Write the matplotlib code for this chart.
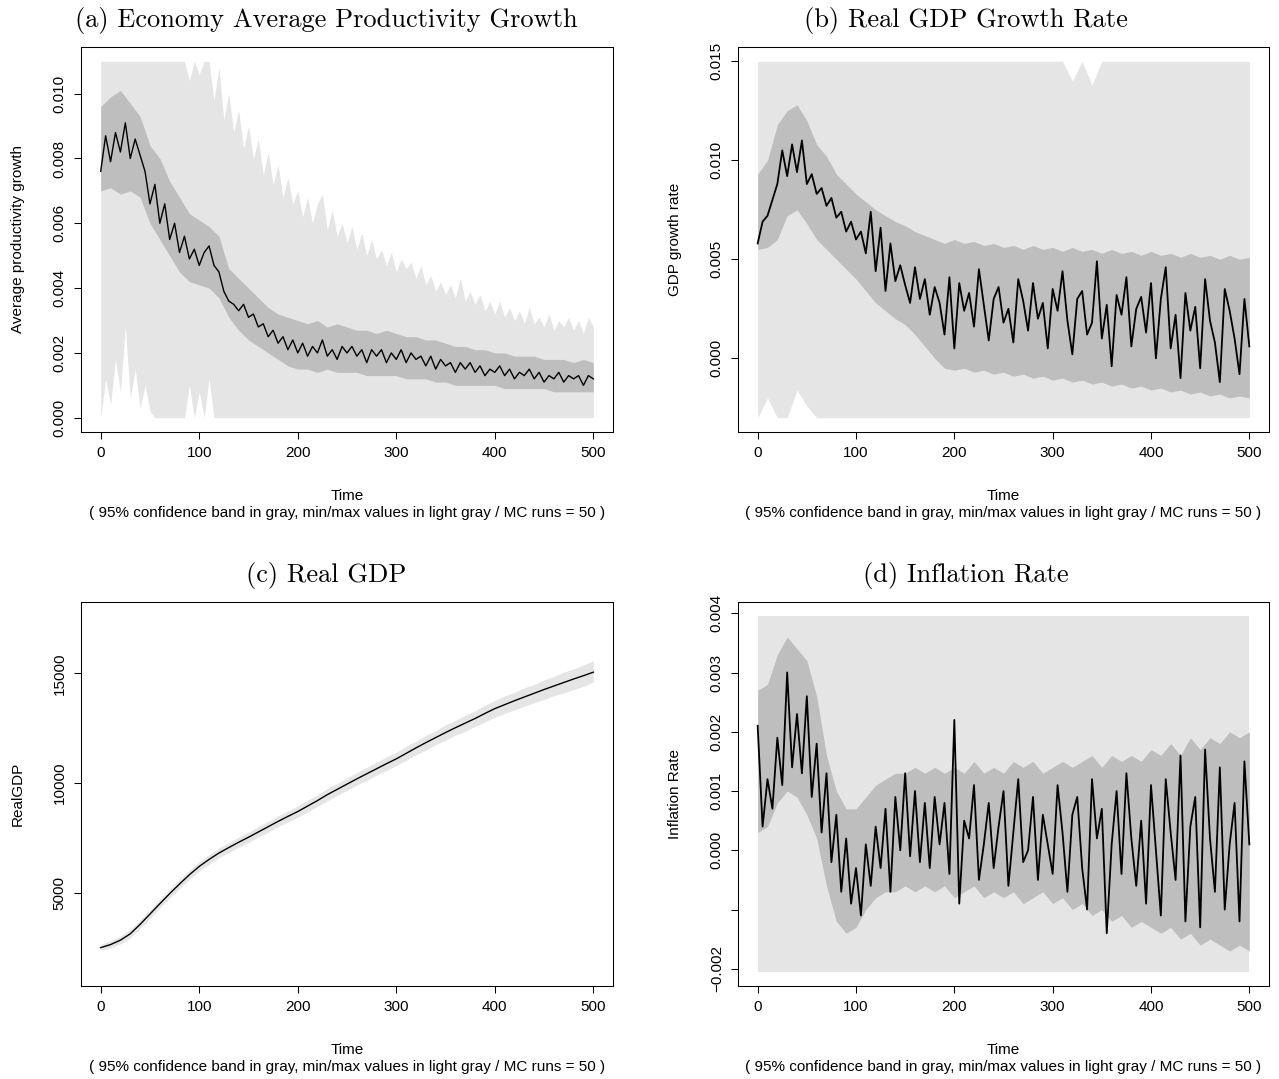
import numpy as np
import matplotlib
matplotlib.use("Agg")
import matplotlib.pyplot as plt

plt.rcParams['font.family'] = ['Liberation Sans', 'DejaVu Sans']
plt.rcParams['axes.unicode_minus'] = True

# ---------------- data ----------------
time5 = np.arange(0, 501, 5)     # 101 time points
time10 = np.arange(0, 501, 10)   # 51 time points

# (a) Economy average productivity growth
prod_mean = [.0076, .0087, .0079, .0088, .0082, .0091, .0080, .0086, .0081, .0076,
             .0066, .0072, .0060, .0066, .0055, .0060, .0051, .0056, .0049, .0052,
             .0047, .0051, .0053, .0047, .0045, .0039, .0036, .0035, .0033, .0035,
             .0031, .0032, .0028, .0029, .0025, .0027, .0023, .0025, .0021, .0024,
             .0020, .0023, .0019, .0022, .0020, .0024, .0019, .0021, .0018, .0022,
             .0020, .0022, .0019, .0021, .0017, .0021, .0019, .0021, .0017, .0020,
             .0018, .0021, .0017, .0020, .0018, .0019, .0016, .0019, .0015, .0018,
             .0016, .0017, .0014, .0017, .0015, .0017, .0014, .0016, .0013, .0015,
             .0014, .0016, .0013, .0015, .0012, .0014, .0013, .0015, .0012, .0014,
             .0011, .0013, .0012, .0014, .0011, .0013, .0012, .0013, .0010, .0013,
             .0012]
prod_ci_lo = [.0070, .0071, .0069, .0070, .0068, .0060, .0055, .0050, .0045, .0042,
              .0041, .0040, .0037, .0031, .0027, .0024, .0022, .0020, .0018, .0016,
              .0015, .0015, .0014, .0015, .0014, .0014, .0014, .0013, .0013, .0013,
              .0013, .0012, .0012, .0012, .0011, .0011, .0010, .0010, .0010, .0010,
              .0010, .0009, .0009, .0009, .0009, .0009, .0008, .0008, .0008, .0008,
              .0008]
prod_ci_hi = [.0096, .0099, .0101, .0097, .0093, .0084, .0080, .0073, .0068, .0063,
              .0061, .0059, .0056, .0046, .0043, .0040, .0037, .0034, .0032, .0031,
              .0030, .0029, .0030, .0028, .0029, .0028, .0027, .0027, .0026, .0027,
              .0026, .0025, .0025, .0024, .0024, .0023, .0022, .0022, .0021, .0021,
              .0020, .0020, .0019, .0019, .0019, .0018, .0018, .0018, .0017, .0018,
              .0017]
prod_max = [.0115, .0115, .0115, .0115, .0115, .0115, .0115, .0115, .0115, .0115,
            .0115, .0115, .0115, .0115, .0115, .0115, .0115, .0115, .0104, .0115,
            .0106, .0115, .0115, .0098, .0108, .0092, .0100, .0088, .0095, .0083,
            .0090, .0080, .0086, .0075, .0082, .0072, .0078, .0068, .0074, .0066,
            .0070, .0062, .0068, .0060, .0066, .0069, .0058, .0064, .0056, .0060,
            .0054, .0059, .0052, .0057, .0050, .0055, .0049, .0052, .0047, .0051,
            .0045, .0049, .0046, .0048, .0043, .0047, .0041, .0044, .0039, .0042,
            .0038, .0041, .0037, .0043, .0036, .0039, .0035, .0038, .0033, .0036,
            .0032, .0036, .0031, .0034, .0030, .0033, .0029, .0034, .0029, .0031,
            .0028, .0032, .0027, .0030, .0028, .0031, .0027, .0030, .0026, .0031,
            .0028]
prod_min = [.0000, .0012, .0004, .0018, .0008, .0028, .0006, .0015, .0003, .0010,
            .0002, -.001, -.001, -.001, -.001, -.001, -.001, -.001, .0010, -.001,
            .0008, -.001, .0012, -.001, -.001, -.001, -.001, -.001, -.001, -.001,
            -.001, -.001, -.001, -.001, -.001, -.001, -.001, -.001, -.001, -.001,
            -.001, -.001, -.001, -.001, -.001, -.001, -.001, -.001, -.001, -.001,
            -.001, -.001, -.001, -.001, -.001, -.001, -.001, -.001, -.001, -.001,
            -.001, -.001, -.001, -.001, -.001, -.001, -.001, -.001, -.001, -.001,
            -.001, -.001, -.001, -.001, -.001, -.001, -.001, -.001, -.001, -.001,
            -.001, -.001, -.001, -.001, -.001, -.001, -.001, -.001, -.001, -.001,
            -.001, -.001, -.001, -.001, -.001, -.001, -.001, -.001, -.001, -.001,
            -.001]

# (b) Real GDP growth rate
gdpg_mean = [.0058, .0069, .0072, .0080, .0088, .0105, .0092, .0108, .0094, .0110,
             .0088, .0093, .0083, .0086, .0077, .0081, .0071, .0074, .0064, .0069,
             .0060, .0064, .0053, .0074, .0044, .0066, .0034, .0058, .0039, .0047,
             .0037, .0028, .0046, .0030, .0040, .0022, .0036, .0028, .0012, .0041,
             .0005, .0038, .0024, .0033, .0016, .0045, .0027, .0009, .0030, .0036,
             .0018, .0025, .0008, .0040, .0029, .0014, .0038, .0020, .0028, .0005,
             .0035, .0024, .0044, .0019, .0002, .0030, .0034, .0012, .0018, .0049,
             .0010, .0027, -.0004, .0032, .0022, .0041, .0006, .0025, .0031, .0013,
             .0038, .0000, .0030, .0046, .0005, .0022, -.0010, .0033, .0014, .0026,
             -.0005, .0040, .0019, .0008, -.0012, .0035, .0024, .0010, -.0008, .0030,
             .0006]
gdpg_ci_lo = [.0055, .0056, .0060, .0072, .0075, .0068, .0060, .0055, .0050, .0045,
              .0040, .0034, .0028, .0024, .0020, .0017, .0012, .0006, .0000, -.0005,
              -.0006, -.0005, -.0007, -.0006, -.0008, -.0007, -.0009, -.0008, -.0010, -.0009,
              -.0011, -.0010, -.0012, -.0011, -.0013, -.0012, -.0014, -.0013, -.0015, -.0014,
              -.0016, -.0015, -.0017, -.0016, -.0018, -.0017, -.0019, -.0018, -.0020, -.0019,
              -.0020]
gdpg_ci_hi = [.0093, .0100, .0118, .0125, .0128, .0120, .0108, .0102, .0093, .0088,
              .0083, .0079, .0075, .0072, .0069, .0067, .0064, .0062, .0060, .0058,
              .0060, .0058, .0059, .0057, .0058, .0056, .0057, .0055, .0057, .0055,
              .0056, .0054, .0056, .0054, .0055, .0053, .0055, .0053, .0054, .0052,
              .0054, .0052, .0053, .0051, .0053, .0051, .0052, .0050, .0052, .0050,
              .0051]
gdpg_max = [.0155, .0155, .0155, .0155, .0155, .0155, .0155, .0155, .0155, .0155,
            .0155, .0155, .0155, .0155, .0155, .0155, .0155, .0155, .0155, .0155,
            .0155, .0155, .0155, .0155, .0155, .0155, .0155, .0155, .0155, .0155,
            .0155, .0155, .0140, .0155, .0138, .0155, .0155, .0155, .0155, .0155,
            .0155, .0155, .0155, .0155, .0155, .0155, .0155, .0155, .0155, .0155,
            .0155]
gdpg_min = [-.0035, -.0020, -.0035, -.0035, -.0016, -.0024, -.0035, -.0035, -.0035, -.0035,
            -.0035, -.0035, -.0035, -.0035, -.0035, -.0035, -.0035, -.0035, -.0035, -.0035,
            -.0035, -.0035, -.0035, -.0035, -.0035, -.0035, -.0035, -.0035, -.0035, -.0035,
            -.0035, -.0035, -.0035, -.0035, -.0035, -.0035, -.0035, -.0035, -.0035, -.0035,
            -.0035, -.0035, -.0035, -.0035, -.0035, -.0035, -.0035, -.0035, -.0035, -.0035,
            -.0035]

# (c) Real GDP level
rgdp_mean = [2500, 2640, 2840, 3130, 3560, 4030, 4500, 4960, 5400, 5820,
             6200, 6520, 6810, 7060, 7300, 7530, 7770, 8010, 8250, 8480,
             8700, 8950, 9200, 9470, 9710, 9950, 10190, 10420, 10650, 10880,
             11100, 11350, 11600, 11840, 12070, 12300, 12520, 12730, 12940, 13170,
             13390, 13570, 13750, 13920, 14090, 14260, 14420, 14580, 14740, 14890,
             15050]
rgdp_max = [2650, 2810, 3020, 3320, 3760, 4230, 4710, 5160, 5610, 6020,
            6420, 6730, 7040, 7280, 7540, 7760, 8020, 8250, 8510, 8730,
            8960, 9220, 9460, 9750, 9980, 10240, 10470, 10720, 10940, 11190,
            11400, 11670, 11910, 12170, 12390, 12650, 12850, 13090, 13290, 13550,
            13760, 13970, 14130, 14340, 14490, 14700, 14850, 15050, 15200, 15390,
            15570]
rgdp_min = [2380, 2490, 2670, 2950, 3370, 3830, 4310, 4760, 5190, 5620,
            5990, 6300, 6600, 6830, 7080, 7290, 7540, 7760, 8010, 8220,
            8450, 8680, 8940, 9190, 9440, 9660, 9910, 10120, 10360, 10570,
            10800, 11030, 11290, 11500, 11750, 11950, 12180, 12360, 12580, 12790,
            13000, 13170, 13340, 13500, 13660, 13810, 13980, 14110, 14260, 14400,
            14600]

# (d) Inflation rate
infl_mean = [.0021, .0004, .0012, .0007, .0019, .0011, .0030, .0014, .0023, .0013,
             .0026, .0009, .0018, .0003, .0013, -.0002, .0006, -.0007, .0002, -.0009,
             -.0003, -.0011, .0001, -.0006, .0004, -.0003, .0007, -.0007, .0009, .0000,
             .0013, -.0001, .0010, -.0002, .0008, -.0003, .0009, .0001, .0008, -.0004,
             .0022, -.0009, .0005, .0002, .0011, -.0005, .0001, .0008, -.0003, .0004,
             .0010, -.0006, .0003, .0012, -.0002, .0000, .0009, -.0005, .0006, .0001,
             -.0004, .0011, .0003, -.0007, .0006, .0009, -.0003, -.0010, .0012, .0002,
             .0007, -.0014, .0001, .0010, -.0004, .0013, .0002, -.0006, .0005, -.0009,
             .0011, .0000, -.0011, .0012, .0003, -.0005, .0016, -.0012, .0004, .0009,
             -.0013, .0017, .0002, -.0007, .0014, -.0010, .0001, .0008, -.0012, .0015,
             .0001]
infl_ci_lo = [.0003, .0004, .0008, .0010, .0009, .0006, .0002, -.0006, -.0012, -.0014,
              -.0013, -.0010, -.0008, -.0007, -.0007, -.0006, -.0007, -.0006, -.0007, -.0006,
              -.0008, -.0007, -.0006, -.0008, -.0007, -.0008, -.0007, -.0009, -.0008, -.0007,
              -.0009, -.0008, -.0010, -.0009, -.0011, -.0010, -.0012, -.0011, -.0013, -.0012,
              -.0013, -.0014, -.0013, -.0015, -.0014, -.0016, -.0015, -.0016, -.0017, -.0016,
              -.0017]
infl_ci_hi = [.0027, .0028, .0033, .0036, .0034, .0032, .0026, .0016, .0010, .0007,
              .0007, .0009, .0011, .0012, .0013, .0013, .0014, .0013, .0014, .0013,
              .0014, .0013, .0015, .0013, .0014, .0013, .0015, .0014, .0015, .0013,
              .0014, .0015, .0014, .0015, .0016, .0014, .0016, .0015, .0016, .0015,
              .0017, .0016, .0018, .0016, .0019, .0017, .0019, .0018, .0020, .0019,
              .0020]
infl_max = [.0042, .0042, .0042, .0042, .0042, .0042, .0042, .0042, .0042, .0042,
            .0042, .0042, .0042, .0042, .0042, .0042, .0042, .0042, .0042, .0042,
            .0042, .0042, .0042, .0042, .0042, .0042, .0042, .0042, .0042, .0042,
            .0042, .0042, .0042, .0042, .0042, .0042, .0042, .0042, .0042, .0042,
            .0042, .0042, .0042, .0042, .0042, .0042, .0042, .0042, .0042, .0042,
            .0042]
infl_min = [-.0023, -.0023, -.0023, -.0023, -.0023, -.0023, -.0023, -.0023, -.0023, -.0023,
            -.0023, -.0023, -.0023, -.0023, -.0023, -.0023, -.0023, -.0023, -.0023, -.0023,
            -.0023, -.0023, -.0023, -.0023, -.0023, -.0023, -.0023, -.0023, -.0023, -.0023,
            -.0023, -.0023, -.0023, -.0023, -.0023, -.0023, -.0023, -.0023, -.0023, -.0023,
            -.0023, -.0023, -.0023, -.0023, -.0023, -.0023, -.0023, -.0023, -.0023, -.0023,
            -.0023]

x_ticks = [0, 100, 200, 300, 400, 500]
sub_text = "( 95% confidence band in gray, min/max values in light gray / MC runs = 50 )"

# ---------------- figure ----------------
W, H = 1279, 1079
fig = plt.figure(figsize=(W / 100, H / 100), dpi=100)
LIGHT = '#E5E5E5'
BAND = '#BEBEBE'

panels = [
    dict(box=(81, 47, 613, 432), title="(a) Economy Average Productivity Growth", tcx=326,
         ylabel="Average productivity growth", rng=(0.0, 0.011),
         yt=[0, .002, .004, .006, .008, .010],
         ytl=["0.000", "0.002", "0.004", "0.006", "0.008", "0.010"],
         mean=(time5, prod_mean), ci=(time10, prod_ci_lo, prod_ci_hi),
         mm=(time5, prod_min, prod_max), lw=1.0),
    dict(box=(738, 47, 1269, 432), title="(b) Real GDP Growth Rate", tcx=966,
         ylabel="GDP growth rate", rng=(-0.003, 0.015),
         yt=[0, .005, .010, .015], ytl=["0.000", "0.005", "0.010", "0.015"],
         mean=(time5, gdpg_mean), ci=(time10, gdpg_ci_lo, gdpg_ci_hi),
         mm=(time10, gdpg_min, gdpg_max), lw=1.3),
    dict(box=(81, 602, 613, 986), title="(c) Real GDP", tcx=326,
         ylabel="RealGDP", rng=(1400, 17600),
         yt=[5000, 10000, 15000], ytl=["5000", "10000", "15000"],
         mean=(time10, rgdp_mean), ci=None,
         mm=(time10, rgdp_min, rgdp_max), lw=1.0),
    dict(box=(738, 602, 1269, 986), title="(d) Inflation Rate", tcx=966,
         ylabel="Inflation Rate", rng=(-0.00205, 0.00395),
         yt=[-.002, -.001, 0, .001, .002, .003, .004],
         ytl=["\u22120.002", "", "0.000", "0.001", "0.002", "0.003", "0.004"],
         mean=(time5, infl_mean), ci=(time10, infl_ci_lo, infl_ci_hi),
         mm=(time10, infl_min, infl_max), lw=1.3),
]

for p in panels:
    l, t, r, b = p['box']
    ax = fig.add_axes([l / W, 1 - b / H, (r - l) / W, (b - t) / H])
    lo, hi = p['rng']
    tm, mn, mx = p['mm']
    ax.fill_between(tm, np.clip(mn, lo, hi), np.clip(mx, lo, hi), color=LIGHT, lw=0)
    if p['ci'] is not None:
        tc, cl, ch = p['ci']
        ax.fill_between(tc, np.clip(cl, lo, hi), np.clip(ch, lo, hi), color=BAND, lw=0)
    tt, yy = p['mean']
    ax.plot(tt, yy, color='black', lw=p['lw'])

    pad = 0.04 * (hi - lo)
    ax.set_xlim(-20, 520)
    ax.set_ylim(lo - pad, hi + pad)
    ax.set_xticks(x_ticks)
    ax.set_xticklabels([str(v) for v in x_ticks])
    ax.set_yticks(p['yt'])
    ax.set_yticklabels(p['ytl'])
    ax.tick_params(direction='out', length=5.2, width=0.75, labelsize=11, color='black')
    ax.tick_params(axis='x', pad=5)
    ax.tick_params(axis='y', pad=5)
    for lab in ax.get_yticklabels():
        lab.set_rotation(90)
        lab.set_va('center')
    for s in ax.spines.values():
        s.set_linewidth(0.75)
        s.set_color('black')

    cx = (l + r) / 2
    cy = (t + b) / 2
    fig.text(p['tcx'] / W, 1 - (t - 20) / H, p['title'], family='cmr10',
             fontsize=19, ha='center', va='baseline')
    fig.text((l - 63) / W, 1 - cy / H, p['ylabel'], rotation=90, ha='center',
             va='center', fontsize=11)
    fig.text(cx / W, 1 - (b + 64) / H, "Time", ha='center', va='center', fontsize=11)
    fig.text(cx / W, 1 - (b + 81) / H, sub_text, ha='center', va='center', fontsize=11)

fig.savefig("out.png", dpi=100)
